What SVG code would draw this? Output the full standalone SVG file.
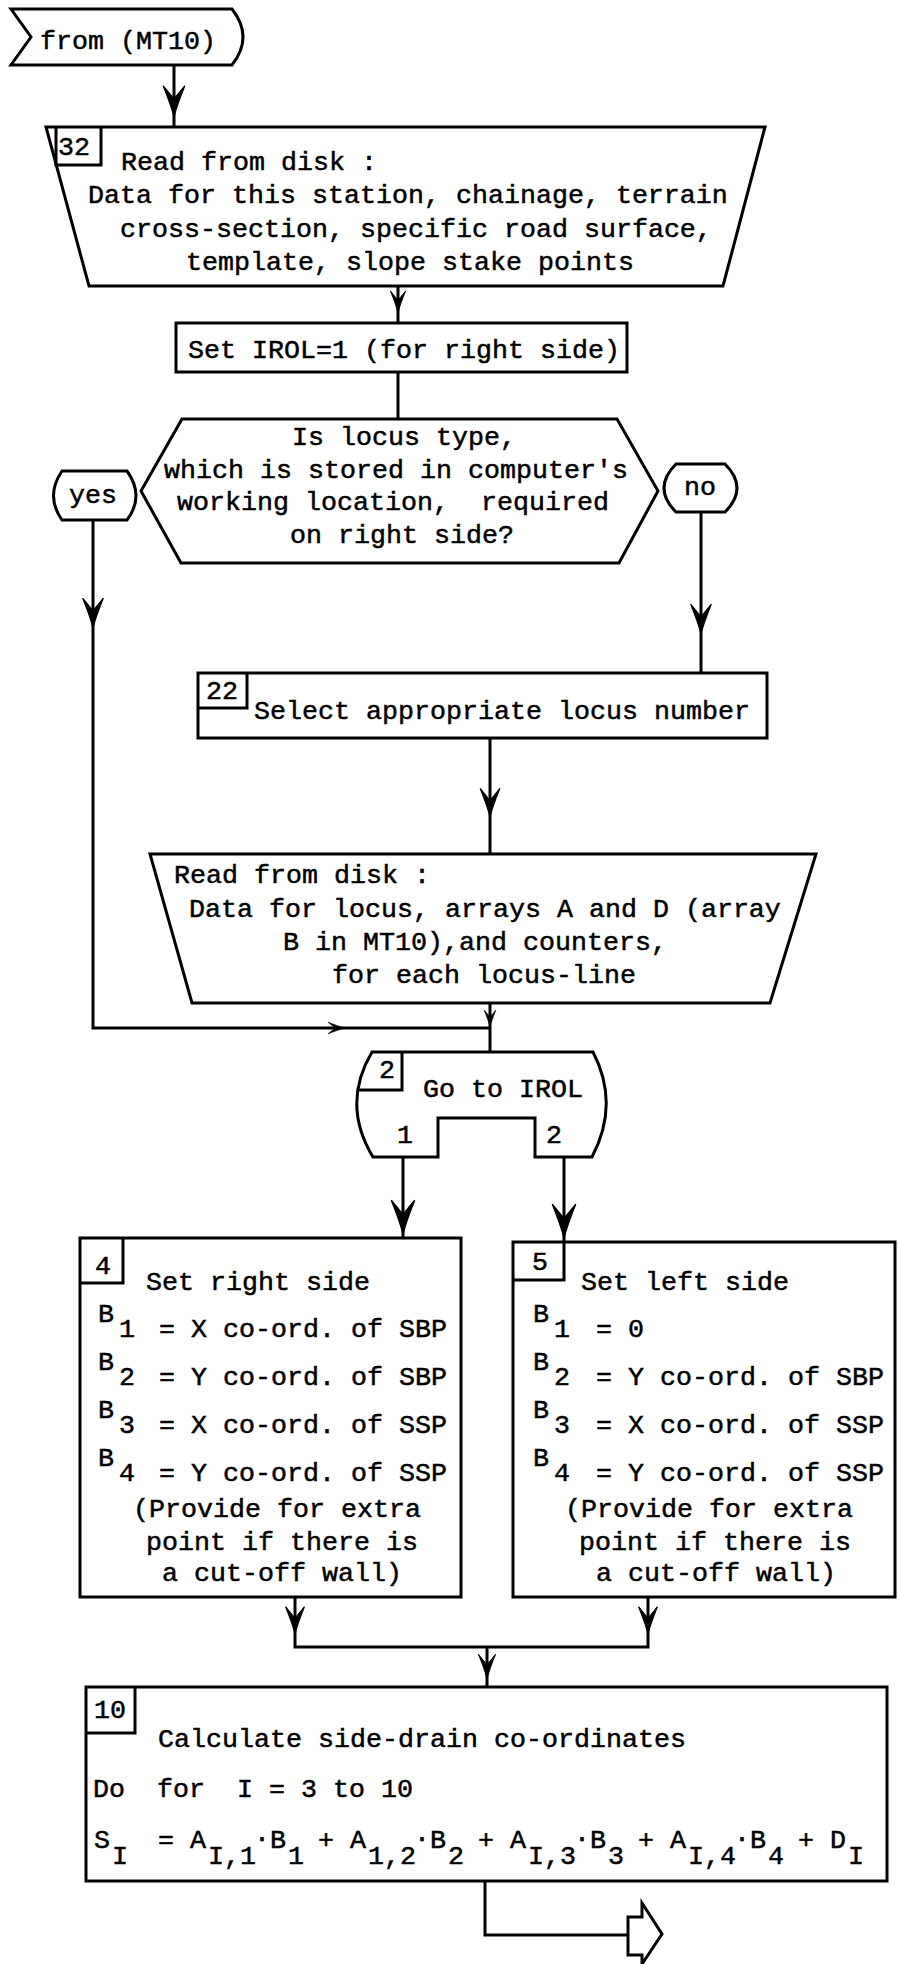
<svg xmlns="http://www.w3.org/2000/svg" xmlns:xlink="http://www.w3.org/1999/xlink" width="898" height="1964" viewBox="0 0 898 1964">
<style>
.s{fill:#fff;stroke:#000;stroke-width:3;stroke-linejoin:miter}
.n{fill:none;stroke:#000;stroke-width:3}
.c{fill:none;stroke:#000;stroke-width:3}
.t{font-family:"Liberation Mono","DejaVu Sans Mono",monospace;font-size:26.67px;fill:#000;stroke:#000;stroke-width:0.5;white-space:pre}
.ah{fill:#000;stroke:#000;stroke-width:1}
</style>
<defs>
<path id="ah" class="ah" d="M0,0 C-2,-8 -5,-16 -9,-26 L0,-15 L9,-26 C5,-16 2,-8 0,0 Z"/>
</defs>
<rect width="898" height="1964" fill="#fff"/>

<g id="connectors">
<path class="c" d="M174,65 V127"/>
<path class="c" d="M398,286 V323"/>
<path class="c" d="M398,372 V419"/>
<path class="c" d="M93,520 V1028 H490"/>
<path class="c" d="M701,512 V673"/>
<path class="c" d="M490,738 V853"/>
<path class="c" d="M490,1003 V1052"/>
<path class="c" d="M403,1157 V1238"/>
<path class="c" d="M564,1157 V1242"/>
<path class="c" d="M295,1597 V1647 H648 V1597"/>
<path class="c" d="M487,1647 V1687"/>
<path class="c" d="M485,1881 V1935 H628"/>
<use xlink:href="#ah" transform="translate(174,117) scale(1.2)"/>
<use xlink:href="#ah" transform="translate(398,313) scale(0.85)"/>
<use xlink:href="#ah" transform="translate(93,628) scale(1.15)"/>
<use xlink:href="#ah" transform="translate(701,634) scale(1.15)"/>
<use xlink:href="#ah" transform="translate(490,817) scale(1.1)"/>
<use xlink:href="#ah" transform="translate(345,1028) rotate(-90) scale(0.65)"/>
<use xlink:href="#ah" transform="translate(490,1027) scale(0.65)"/>
<use xlink:href="#ah" transform="translate(403,1234) scale(1.3)"/>
<use xlink:href="#ah" transform="translate(564,1238) scale(1.3)"/>
<use xlink:href="#ah" transform="translate(295,1634) scale(1.05)"/>
<use xlink:href="#ah" transform="translate(648,1634) scale(1.05)"/>
<use xlink:href="#ah" transform="translate(487,1679) scale(0.95)"/>
</g>

<g id="from">
<path class="s" d="M11,9 H232 Q254,37 232,65 H11 L31,37 Z"/>
<text class="t" x="40" y="49">from (MT10)</text>
</g>

<g id="box32">
<path class="s" d="M46,127 L765,127 L723,286 L89,286 Z"/>
<path class="n" d="M56,127 V165 H101 V127"/>
<text class="t" x="58" y="155">32</text>
<text class="t" x="121" y="170">Read from disk :</text>
<text class="t" x="88" y="203">Data for this station, chainage, terrain</text>
<text class="t" x="120" y="237">cross-section, specific road surface,</text>
<text class="t" x="186" y="270">template, slope stake points</text>
</g>

<g id="irol">
<rect class="s" x="176" y="323" width="451" height="49"/>
<text class="t" x="188" y="358">Set IROL=1 (for right side)</text>
</g>

<g id="decision">
<path class="s" d="M182,419 H617 L658,491 L619,563 H181 L141,491 Z"/>
<text class="t" x="292" y="445">Is locus type,</text>
<text class="t" x="164" y="478">which is stored in computer's</text>
<text class="t" x="177" y="510">working location,  required</text>
<text class="t" x="290" y="543">on right side?</text>
</g>

<g id="yes">
<path class="s" d="M62,471 H127 Q145,496 127,520 H62 Q45,496 62,471 Z"/>
<text class="t" x="69" y="503">yes</text>
</g>

<g id="no">
<path class="s" d="M676,464 H725 Q749,488 725,512 H676 Q652,488 676,464 Z"/>
<text class="t" x="684" y="495">no</text>
</g>

<g id="box22">
<rect class="s" x="198" y="673" width="569" height="65"/>
<path class="n" d="M247,673 V708 H198"/>
<text class="t" x="206" y="699">22</text>
<text class="t" x="254" y="719">Select appropriate locus number</text>
</g>

<g id="readlocus">
<path class="s" d="M150,854 L816,854 L770,1003 L192,1003 Z"/>
<text class="t" x="174" y="883">Read from disk :</text>
<text class="t" x="189" y="917">Data for locus, arrays A and D (array</text>
<text class="t" x="283" y="950">B in MT10),and counters,</text>
<text class="t" x="332" y="983">for each locus-line</text>
</g>

<g id="goto">
<path class="s" d="M372,1052 H593 Q620,1104 592,1157 H535 V1118 H438 V1157 H373 Q341,1104 372,1052 Z"/>
<path class="n" d="M402,1052 V1090 H357"/>
<text class="t" x="379" y="1078">2</text>
<text class="t" x="423" y="1097">Go to IROL</text>
<text class="t" x="397" y="1143">1</text>
<text class="t" x="546" y="1143">2</text>
</g>

<g id="box4">
<rect class="s" x="80" y="1238" width="381" height="359"/>
<path class="n" d="M123,1238 V1283 H80"/>
<text class="t" x="95" y="1274">4</text>
<text class="t" x="146" y="1290">Set right side</text>
<text class="t" x="98" y="1322">B</text><text class="t" x="119" y="1337">1</text><text class="t" x="159" y="1337">= X co-ord. of SBP</text>
<text class="t" x="98" y="1370">B</text><text class="t" x="119" y="1385">2</text><text class="t" x="159" y="1385">= Y co-ord. of SBP</text>
<text class="t" x="98" y="1418">B</text><text class="t" x="119" y="1433">3</text><text class="t" x="159" y="1433">= X co-ord. of SSP</text>
<text class="t" x="98" y="1466">B</text><text class="t" x="119" y="1481">4</text><text class="t" x="159" y="1481">= Y co-ord. of SSP</text>
<text class="t" x="133" y="1517">(Provide for extra</text>
<text class="t" x="146" y="1550">point if there is</text>
<text class="t" x="162" y="1581">a cut-off wall)</text>
</g>

<g id="box5">
<rect class="s" x="513" y="1242" width="382" height="355"/>
<path class="n" d="M564,1242 V1280 H513"/>
<text class="t" x="532" y="1270">5</text>
<text class="t" x="581" y="1290">Set left side</text>
<text class="t" x="533" y="1322">B</text><text class="t" x="554" y="1337">1</text><text class="t" x="596" y="1337">= 0</text>
<text class="t" x="533" y="1370">B</text><text class="t" x="554" y="1385">2</text><text class="t" x="596" y="1385">= Y co-ord. of SBP</text>
<text class="t" x="533" y="1418">B</text><text class="t" x="554" y="1433">3</text><text class="t" x="596" y="1433">= X co-ord. of SSP</text>
<text class="t" x="533" y="1466">B</text><text class="t" x="554" y="1481">4</text><text class="t" x="596" y="1481">= Y co-ord. of SSP</text>
<text class="t" x="565" y="1517">(Provide for extra</text>
<text class="t" x="579" y="1550">point if there is</text>
<text class="t" x="596" y="1581">a cut-off wall)</text>
</g>

<g id="box10">
<rect class="s" x="86" y="1687" width="801" height="194"/>
<path class="n" d="M135,1687 V1733 H86"/>
<text class="t" x="94" y="1718">10</text>
<text class="t" x="158" y="1747">Calculate side-drain co-ordinates</text>
<text class="t" x="93" y="1797">Do  for  I = 3 to 10</text>
<text class="t" x="94" y="1848">S</text><text class="t" x="112" y="1864">I</text>
<text class="t" x="158" y="1848">=</text>
<text class="t" x="190" y="1848">A</text><text class="t" x="208" y="1864">I,1</text>
<text class="t" x="254" y="1846">·</text>
<text class="t" x="270" y="1848">B</text><text class="t" x="288" y="1864">1</text>
<text class="t" x="318" y="1848">+</text>
<text class="t" x="350" y="1848">A</text><text class="t" x="368" y="1864">1,2</text>
<text class="t" x="414" y="1846">·</text>
<text class="t" x="430" y="1848">B</text><text class="t" x="448" y="1864">2</text>
<text class="t" x="478" y="1848">+</text>
<text class="t" x="510" y="1848">A</text><text class="t" x="528" y="1864">I,3</text>
<text class="t" x="574" y="1846">·</text>
<text class="t" x="590" y="1848">B</text><text class="t" x="608" y="1864">3</text>
<text class="t" x="638" y="1848">+</text>
<text class="t" x="670" y="1848">A</text><text class="t" x="688" y="1864">I,4</text>
<text class="t" x="734" y="1846">·</text>
<text class="t" x="750" y="1848">B</text><text class="t" x="768" y="1864">4</text>
<text class="t" x="798" y="1848">+</text>
<text class="t" x="830" y="1848">D</text><text class="t" x="848" y="1864">I</text>
</g>

<g id="exit">
<path class="s" d="M628,1917 H642 V1903 L662,1934 L642,1964 V1955 H628 Z"/>
</g>
</svg>
